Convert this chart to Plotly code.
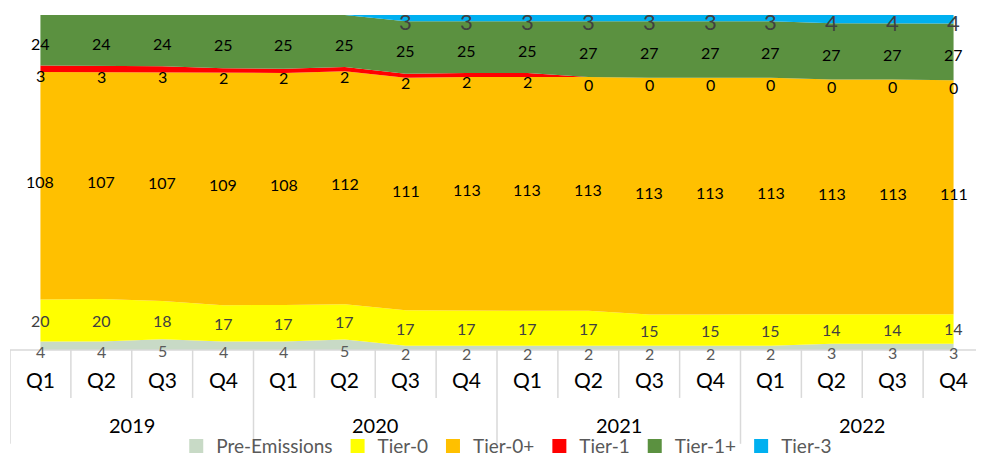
import plotly.graph_objects as go

quarters = ["Q1", "Q2", "Q3", "Q4"] * 4
years = ["2019", "2020", "2021", "2022"]

pre_emissions = [4, 4, 5, 4, 4, 5, 2, 2, 2, 2, 2, 2, 2, 3, 3, 3]
tier0 = [20, 20, 18, 17, 17, 17, 17, 17, 17, 17, 15, 15, 15, 14, 14, 14]
tier0p = [108, 107, 107, 109, 108, 112, 111, 113, 113, 113, 113, 113, 113, 113, 113, 111]
tier1 = [3, 3, 3, 2, 2, 2, 2, 2, 2, 0, 0, 0, 0, 0, 0, 0]
tier1p = [24, 24, 24, 25, 25, 25, 25, 25, 25, 27, 27, 27, 27, 27, 27, 27]
tier3 = [0, 0, 0, 0, 0, 0, 3, 3, 3, 3, 3, 3, 3, 4, 4, 4]

# name, values, fill colour, label colour, label size, show zero labels, label y-shift (px)
series = [
    ("Pre-Emissions", pre_emissions, "#c8dac6", "#595959", 16, True, -6),
    ("Tier-0", tier0, "#ffff00", "#404040", 16, True, 0),
    ("Tier-0+", tier0p, "#ffc000", "#000000", 16, True, 4),
    ("Tier-1", tier1, "#ff0000", "#000000", 16, True, -7),
    ("Tier-1+", tier1p, "#5b9140", "#000000", 16, True, -3),
    ("Tier-3", tier3, "#00b0f0", "#404040", 22, False, -3),
]

FONT = "Lato"
n = len(quarters)
xs = list(range(n))
totals = [sum(s[1][i] for s in series) for i in range(n)]

fig = go.Figure()

# stacked 100% areas
for name, vals, color, *_ in series:
    fig.add_trace(go.Scatter(
        x=xs, y=vals, name=name, stackgroup="one", groupnorm="percent",
        mode="lines", line=dict(width=0, color=color), fillcolor=color,
        showlegend=False, hoverinfo="skip"))

annotations = []

# data labels at band midpoints
cum = [0.0] * n
for name, vals, color, tcolor, tsize, show_zero, yshift in series:
    for i in range(n):
        frac = vals[i] / totals[i] * 100
        mid = cum[i] + frac / 2
        cum[i] += frac
        if show_zero or vals[i] != 0:
            annotations.append(dict(
                x=xs[i], y=mid, xref="x", yref="y", text=str(vals[i]),
                showarrow=False, yshift=yshift, xanchor="center", yanchor="middle",
                font=dict(family=FONT, size=tsize, color=tcolor)))

# legend entries
for name, vals, color, *_ in series:
    fig.add_trace(go.Scatter(
        x=[None], y=[None], mode="markers", name=name,
        marker=dict(symbol="square", size=14, color=color)))

# multi-level category axis decorations
shapes = []
grid = "#d9d9d9"
for k in range(n + 1):
    long = (k % 4 == 0)
    shapes.append(dict(type="line", xref="x", yref="paper",
                       x0=k - 0.5, x1=k - 0.5, y0=0, y1=-0.28 if long else -0.143,
                       line=dict(color=grid, width=1.5)))
shapes.append(dict(type="line", xref="paper", yref="paper", x0=0, x1=1, y0=0, y1=0,
                   line=dict(color=grid, width=1.5)))

for i, q in enumerate(quarters):
    annotations.append(dict(x=i, y=-0.088, xref="x", yref="paper", text=q,
                            showarrow=False, yanchor="middle",
                            font=dict(family=FONT, size=21, color="#000000")))
for j, yr in enumerate(years):
    annotations.append(dict(x=4 * j + 1.5, y=-0.224, xref="x", yref="paper", text=yr,
                            showarrow=False, yanchor="middle",
                            font=dict(family=FONT, size=20, color="#000000")))

# page body has an 8px margin: size the figure so it fits the 984x457 window
fig.update_layout(
    width=976, height=449,
    margin=dict(l=2, r=0, t=7, b=107, autoexpand=False),
    paper_bgcolor="white", plot_bgcolor="white",
    xaxis=dict(range=[-0.5, 15.5], showgrid=False, zeroline=False,
               showticklabels=False, showline=False, fixedrange=True),
    yaxis=dict(range=[0, 100], showgrid=False, zeroline=False,
               showticklabels=False, showline=False, fixedrange=True),
    shapes=shapes, annotations=annotations,
    showlegend=True,
    legend=dict(orientation="h", x=0.51, xanchor="center", y=-0.287, yanchor="middle",
                font=dict(family=FONT, size=19, color="#595959"),
                bgcolor="rgba(0,0,0,0)", itemwidth=30, tracegroupgap=0,
                traceorder="normal"),
)

fig.write_html("out.html")
